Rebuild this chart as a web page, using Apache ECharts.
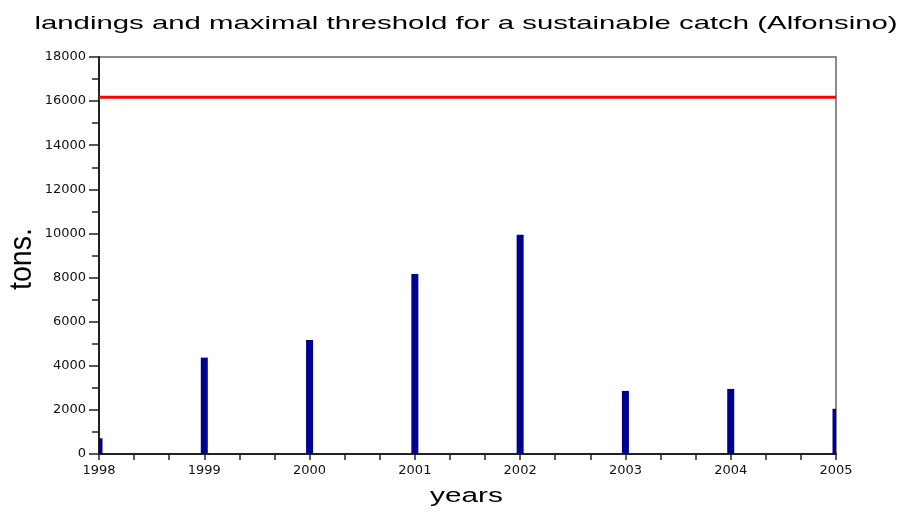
<!DOCTYPE html>
<html>
<head>
<meta charset="utf-8">
<script src="https://cdn.jsdelivr.net/npm/echarts@6/dist/echarts.min.js"></script>
<style>html,body{margin:0;padding:0;background:#fff}#c{width:901px;height:512px}</style>
</head>
<body>
<div id="c"></div>
<script>
var years = [1998, 1999, 2000, 2001, 2002, 2003, 2004, 2005];
var landings = [710, 4370, 5170, 8160, 9940, 2860, 2950, 2050];
var thresholdYears = [1998, 2005];
var threshold = [16170, 16170];
var titleText = 'landings and maximal threshold for a sustainable catch (Alfonsino)';
var xName = 'years';
var yName = 'tons.';

var chart = echarts.init(document.getElementById('c'), null, {renderer: 'canvas'});
var font = '"Liberation Sans", Arial, sans-serif';
var tickFont = '"DejaVu Sans", sans-serif';

chart.setOption({
  animation: false,
  backgroundColor: '#fff',
  graphic: [
    {type: 'text', x: 466, y: 23.7, scaleX: 1.545, silent: true,
     style: {text: titleText, fontFamily: font, fontSize: 19, fill: '#000', align: 'center', verticalAlign: 'middle'}},
    {type: 'text', x: 466.5, y: 496.3, scaleX: 1.49, silent: true,
     style: {text: xName, fontFamily: font, fontSize: 20, fill: '#000', align: 'center', verticalAlign: 'middle'}},
    {type: 'text', x: 22, y: 259, rotation: Math.PI / 2, scaleX: 1.3, scaleY: 1.45, silent: true,
     style: {text: yName, fontFamily: font, fontSize: 22, fill: '#000', align: 'center', verticalAlign: 'middle'}}
  ],
  grid: {left: 99, right: 65, top: 57, bottom: 58, show: true, borderColor: '#666', borderWidth: 1.5},
  xAxis: {
    type: 'value', min: 1998, max: 2005, interval: 1,
    axisLine: {show: true, lineStyle: {color: '#222', width: 2}},
    axisTick: {show: true, length: 6, lineStyle: {color: '#222', width: 1.5}},
    minorTick: {show: true, splitNumber: 3, length: 6, lineStyle: {color: '#222', width: 1.5}},
    splitLine: {show: false},
    axisLabel: {fontFamily: tickFont, fontSize: 13, color: '#111', margin: 10,
                formatter: function (v) { return String(v); }}
  },
  yAxis: {
    type: 'value', min: 0, max: 18000, interval: 2000,
    axisLine: {show: true, lineStyle: {color: '#222', width: 2}},
    axisTick: {show: true, length: 10, lineStyle: {color: '#222', width: 1.5}},
    minorTick: {show: true, splitNumber: 2, length: 7, lineStyle: {color: '#222', width: 1.5}},
    splitLine: {show: false},
    axisLabel: {fontFamily: tickFont, fontSize: 13, color: '#111', margin: 13,
                formatter: function (v) { return String(v); }}
  },
  series: [
    {
      type: 'custom',
      data: years.map(function (y, i) { return [y, landings[i]]; }),
      encode: {x: 0, y: 1},
      renderItem: function (params, api) {
        var cs = params.coordSys;
        var top = api.coord([api.value(0), api.value(1)]);
        var base = api.coord([api.value(0), 0]);
        var half = 3.5;
        var x0 = Math.max(top[0] - half, cs.x);
        var x1 = Math.min(top[0] + half, cs.x + cs.width);
        return {
          type: 'rect',
          shape: {x: x0, y: top[1], width: x1 - x0, height: base[1] - top[1]},
          style: {fill: '#000090'}
        };
      }
    },
    {
      type: 'line', symbol: 'none', clip: true,
      lineStyle: {color: '#ff0000', width: 3},
      data: thresholdYears.map(function (y, i) { return [y, threshold[i]]; })
    }
  ]
});
</script>
</body>
</html>
